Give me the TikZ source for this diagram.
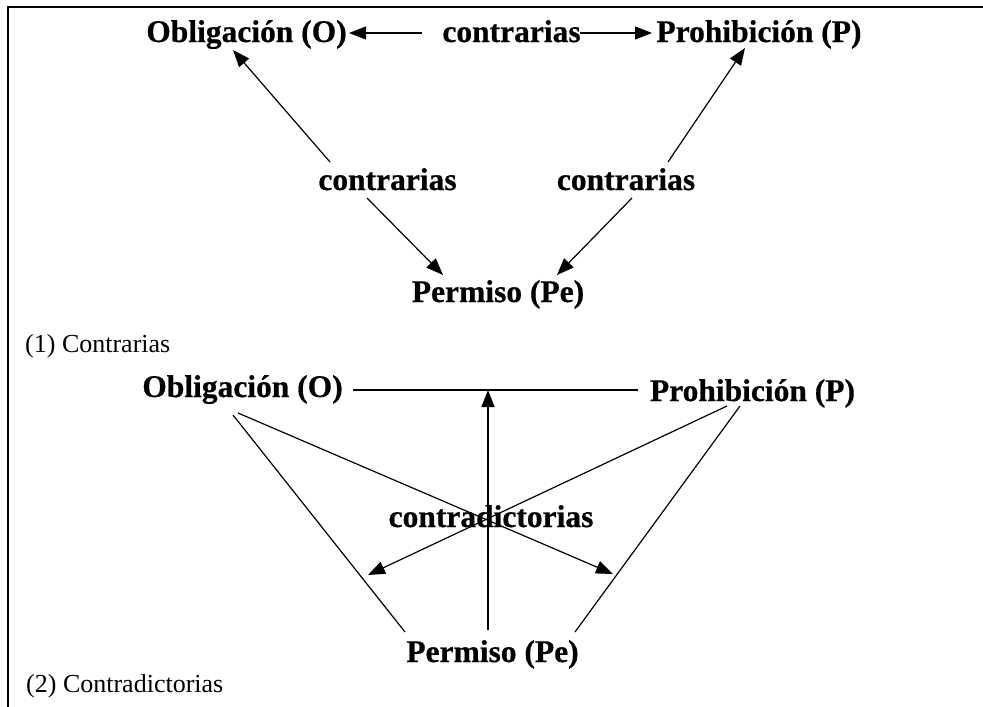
\documentclass[tikz,border=0pt]{standalone}
\usepackage{fontspec}
\setmainfont{Liberation Serif}
\newfontfamily\heavyfont{Liberation Serif Bold}[FakeBold=0.6]
\usetikzlibrary{calc,arrows.meta}
\begin{document}
\begin{tikzpicture}[x=1pt,y=-1pt,
  lbl/.style={font=\heavyfont\fontsize{31.5}{36}\selectfont,inner sep=0pt,anchor=base},
  captext/.style={font=\fontsize{26}{30}\selectfont,inner sep=0pt,anchor=base west},
  ln/.style={line width=1.2pt},
  arr/.style={line width=1.2pt,-{Triangle[length=17pt,width=13pt]}},
  frameline/.style={line width=2pt}]
\useasboundingbox (0,0) rectangle (983,707);
\draw[frameline] (8,707) -- (8,7) -- (983,7);
% ---------- diagram 1 ----------
\node[lbl] (O1) at (246.5,42) {Obligación (O)};
\node[lbl] (ct) at (511.5,42) {contrarias};
\node[lbl] (P1) at (759,42) {Prohibición (P)};
\node[lbl] (cl) at (387.5,190) {contrarias};
\node[lbl] (cr) at (626,190) {contrarias};
\node[lbl] (Pe1) at (498,302) {Permiso (Pe)};
\node[captext] (cap1) at (25,352) {(1) Contrarias};
\draw[arr] ($(ct.base)+(-89.5,-9)$) -- ($(O1.base)+(102.5,-9)$);
\draw[arr] ($(ct.base)+(68.5,-9)$) -- ($(P1.base)+(-107,-9)$);
\draw[arr] ($(cl.base)+(-57.5,-28)$) -- ($(O1.base)+(-13.5,8)$);
\draw[arr] ($(cl.base)+(-20.5,8)$) -- ($(Pe1.base)+(-55,-27)$);
\draw[arr] ($(cr.base)+(42,-28)$) -- ($(P1.base)+(-14,6)$);
\draw[arr] ($(cr.base)+(6,8)$) -- ($(Pe1.base)+(59,-27)$);
% ---------- diagram 2 ----------
\node[lbl] (O2) at (242.5,397) {Obligación (O)};
\node[lbl] (P2) at (752.5,401) {Prohibición (P)};
\node[lbl] (cd) at (491,527) {contradictorias};
\node[lbl] (Pe2) at (492.5,662) {Permiso (Pe)};
\node[captext] (cap2) at (26,692) {(2) Contradictorias};
\coordinate (hA) at ($(O2.base)+(110.5,-7)$);
\coordinate (hB) at ($(P2.base)+(-114.5,-11)$);
\draw[ln] (hA) -- (hB);
\coordinate (vt) at ($(Pe2.base)+(-4.5,-32)$);
\draw[arr] (vt) -- (vt |- hA);
\draw[ln] ($(O2.base)+(-9.5,18)$) -- ($(Pe2.base)+(-87.5,-30)$);
\draw[ln] ($(P2.base)+(-12.5,5)$) -- ($(Pe2.base)+(82.5,-30)$);
\draw[arr] ($(O2.base)+(-4.5,16)$) -- ($(cd.base)+(122,47)$);
\draw[arr] ($(P2.base)+(-25.5,5)$) -- ($(cd.base)+(-123,48)$);
\end{tikzpicture}
\end{document}
